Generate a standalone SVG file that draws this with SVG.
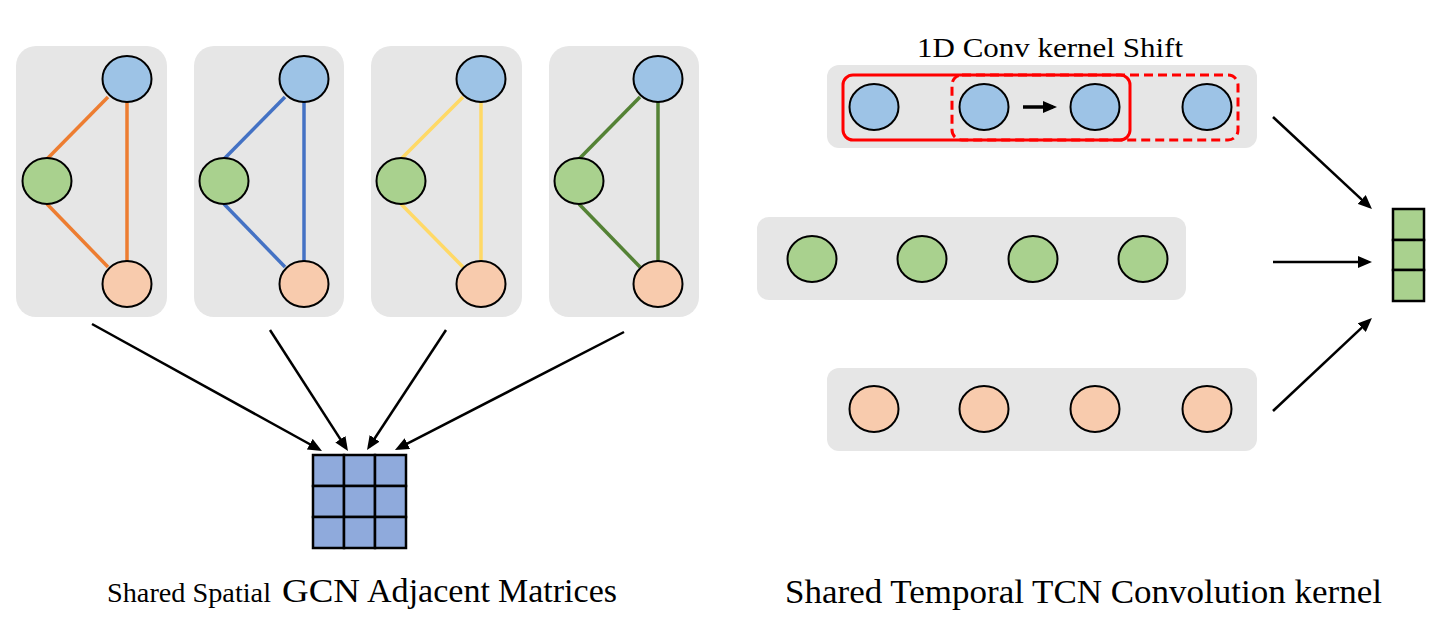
<svg xmlns="http://www.w3.org/2000/svg" width="1456" height="642" viewBox="0 0 1456 642">
<defs>
<style>
.panel{fill:#E6E6E6;stroke:none}
.nb{fill:#9DC3E6;stroke:#000;stroke-width:2}
.ng{fill:#A9D18E;stroke:#000;stroke-width:2}
.no{fill:#F8CBAD;stroke:#000;stroke-width:2}
.e{stroke-width:3.5;fill:none}
.arr{stroke:#000;stroke-width:2.5;fill:none;marker-end:url(#ah)}
.cell{fill:#8FAADC;stroke:#000;stroke-width:2.5}
.gcell{fill:#A9D18E;stroke:#000;stroke-width:2.5}
.lbl{font-family:'Liberation Serif','Times New Roman',Times,serif;fill:#000}
</style>
<marker id="ah" markerUnits="userSpaceOnUse" markerWidth="16" markerHeight="12" refX="10" refY="6" orient="auto">
<path d="M0,0 L14,6 L0,12 Z" fill="#000"/>
</marker>
</defs>
<rect width="1456" height="642" fill="#fff"/>

<!-- GCN panels -->
<g id="gcn1">
<rect class="panel" x="16" y="46" width="151" height="271" rx="20"/>
<g stroke="#ED7D31" class="e"><line x1="47" y1="159" x2="108" y2="97"/><line x1="127" y1="101" x2="127" y2="262"/><line x1="47" y1="204" x2="108" y2="267"/></g>
<ellipse class="nb" cx="127" cy="79" rx="24.5" ry="23"/>
<ellipse class="ng" cx="47" cy="181" rx="24.5" ry="23"/>
<ellipse class="no" cx="127" cy="284" rx="24.5" ry="23"/>
</g>
<g id="gcn2">
<rect class="panel" x="194" y="46" width="150" height="271" rx="20"/>
<g stroke="#4472C4" class="e"><line x1="224" y1="159" x2="285" y2="97"/><line x1="304" y1="101" x2="304" y2="262"/><line x1="224" y1="204" x2="285" y2="267"/></g>
<ellipse class="nb" cx="304" cy="79" rx="24.5" ry="23"/>
<ellipse class="ng" cx="224" cy="181" rx="24.5" ry="23"/>
<ellipse class="no" cx="304" cy="284" rx="24.5" ry="23"/>
</g>
<g id="gcn3">
<rect class="panel" x="371" y="46" width="151" height="271" rx="20"/>
<g stroke="#FFD966" class="e"><line x1="401" y1="159" x2="463" y2="97"/><line x1="481" y1="101" x2="481" y2="262"/><line x1="401" y1="204" x2="463" y2="267"/></g>
<ellipse class="nb" cx="481" cy="79" rx="24.5" ry="23"/>
<ellipse class="ng" cx="401" cy="181" rx="24.5" ry="23"/>
<ellipse class="no" cx="481" cy="284" rx="24.5" ry="23"/>
</g>
<g id="gcn4">
<rect class="panel" x="549" y="46" width="150" height="271" rx="20"/>
<g stroke="#548235" class="e"><line x1="579" y1="159" x2="640" y2="97"/><line x1="658" y1="101" x2="658" y2="262"/><line x1="579" y1="204" x2="640" y2="267"/></g>
<ellipse class="nb" cx="658" cy="79" rx="24.5" ry="23"/>
<ellipse class="ng" cx="579" cy="181" rx="24.5" ry="23"/>
<ellipse class="no" cx="658" cy="284" rx="24.5" ry="23"/>
</g>

<!-- adjacency matrix -->
<g id="matrix">
<rect class="cell" x="313" y="455" width="31" height="31"/>
<rect class="cell" x="344" y="455" width="31" height="31"/>
<rect class="cell" x="375" y="455" width="31" height="31"/>
<rect class="cell" x="313" y="486" width="31" height="31"/>
<rect class="cell" x="344" y="486" width="31" height="31"/>
<rect class="cell" x="375" y="486" width="31" height="31"/>
<rect class="cell" x="313" y="517" width="31" height="31"/>
<rect class="cell" x="344" y="517" width="31" height="31"/>
<rect class="cell" x="375" y="517" width="31" height="31"/>
</g>

<!-- TCN rows -->
<g id="row-blue">
<rect class="panel" x="827" y="65" width="430" height="83" rx="12"/>
<ellipse class="nb" cx="874" cy="107" rx="24.5" ry="23"/>
<ellipse class="nb" cx="984" cy="107" rx="24.5" ry="23"/>
<ellipse class="nb" cx="1095" cy="107" rx="24.5" ry="23"/>
<ellipse class="nb" cx="1207" cy="107" rx="24.5" ry="23"/>
<rect x="952" y="75" width="286" height="65" rx="10" fill="none" stroke="#FF0000" stroke-width="3" stroke-dasharray="9,5"/>
<rect x="843" y="75" width="287" height="65" rx="10" fill="none" stroke="#FF0000" stroke-width="3"/>
<line x1="1023" y1="107" x2="1053" y2="107" stroke="#000" stroke-width="3.5" marker-end="url(#ah)"/>
</g>
<g id="row-green">
<rect class="panel" x="757" y="217" width="429" height="83" rx="12"/>
<ellipse class="ng" cx="812" cy="259" rx="24.5" ry="23"/>
<ellipse class="ng" cx="922" cy="259" rx="24.5" ry="23"/>
<ellipse class="ng" cx="1033" cy="259" rx="24.5" ry="23"/>
<ellipse class="ng" cx="1143" cy="259" rx="24.5" ry="23"/>
</g>
<g id="row-orange">
<rect class="panel" x="827" y="368" width="430" height="83" rx="12"/>
<ellipse class="no" cx="874" cy="409" rx="24.5" ry="23"/>
<ellipse class="no" cx="984" cy="409" rx="24.5" ry="23"/>
<ellipse class="no" cx="1095" cy="409" rx="24.5" ry="23"/>
<ellipse class="no" cx="1207" cy="409" rx="24.5" ry="23"/>
</g>

<!-- output vector -->
<g id="vector">
<rect class="gcell" x="1393" y="209" width="31" height="31"/>
<rect class="gcell" x="1393" y="240" width="31" height="30"/>
<rect class="gcell" x="1393" y="270" width="31" height="31"/>
</g>

<!-- connectors -->
<g id="connectors">
<line class="arr" x1="92" y1="324" x2="318.5" y2="449"/>
<line class="arr" x1="270" y1="330" x2="345.8" y2="447.6"/>
<line class="arr" x1="446" y1="330" x2="369.2" y2="446.7"/>
<line class="arr" x1="624" y1="332" x2="398.5" y2="448.2"/>
<line class="arr" x1="1273" y1="117" x2="1369" y2="206.3"/>
<line class="arr" x1="1273" y1="262" x2="1368" y2="262"/>
<line class="arr" x1="1273" y1="411" x2="1369" y2="320.8"/>
</g>

<!-- labels -->
<text class="lbl" x="917" y="57" font-size="27" textLength="266" lengthAdjust="spacingAndGlyphs">1D Conv kernel Shift</text>
<text class="lbl" y="602"><tspan x="107" font-size="28" textLength="164" lengthAdjust="spacingAndGlyphs">Shared Spatial</tspan><tspan x="282" font-size="34" textLength="78" lengthAdjust="spacingAndGlyphs">GCN</tspan><tspan x="367" font-size="34" textLength="123" lengthAdjust="spacingAndGlyphs">Adjacent</tspan><tspan x="498" font-size="34" textLength="119" lengthAdjust="spacingAndGlyphs">Matrices</tspan></text>
<text class="lbl" x="785" y="603" font-size="34" textLength="597" lengthAdjust="spacingAndGlyphs">Shared Temporal TCN Convolution kernel</text>
</svg>
